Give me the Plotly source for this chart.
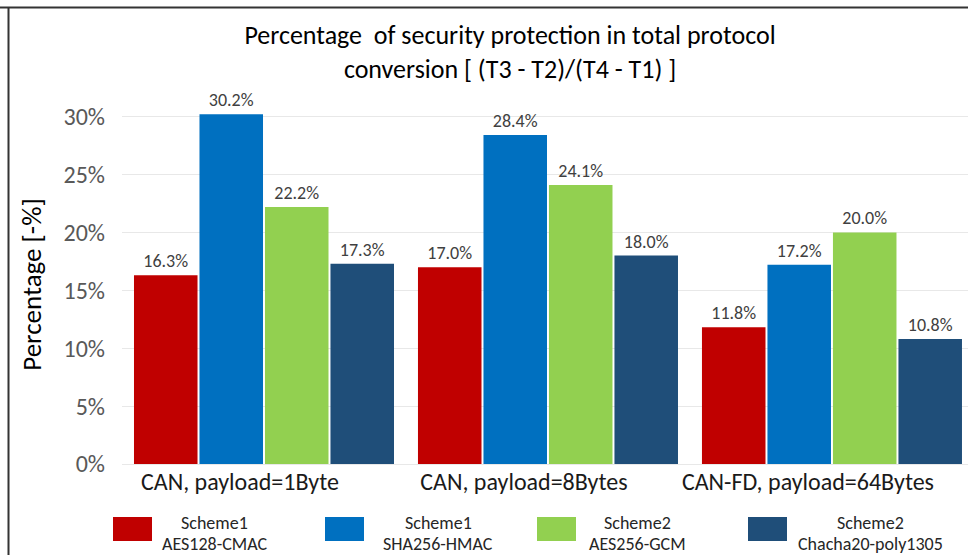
import plotly.graph_objects as go

# Protocol conversion scenarios (x categories)
categories = ["CAN, payload=1Byte", "CAN, payload=8Bytes", "CAN-FD, payload=64Bytes"]

# Share of security protection time in the total conversion time, in percent
aes128_cmac = [16.3, 17.0, 11.8]
sha256_hmac = [30.2, 28.4, 17.2]
aes256_gcm = [22.2, 24.1, 20.0]
chacha20_poly1305 = [17.3, 18.0, 10.8]

series_values = [aes128_cmac, sha256_hmac, aes256_gcm, chacha20_poly1305]
series_schemes = ["Scheme1", "Scheme1", "Scheme2", "Scheme2"]
series_algos = ["AES128-CMAC", "SHA256-HMAC", "AES256-GCM", "Chacha20-poly1305"]
series_colors = ["#C00000", "#0070C0", "#92D050", "#1F4E79"]

y_tick_values = [0, 5, 10, 15, 20, 25, 30]
y_tick_labels = ["0%", "5%", "10%", "15%", "20%", "25%", "30%"]

FONT = "Carlito, Lato, sans-serif"
W, H = 968, 555
ML, MR, MT, MB = 122, 0, 105, 91
PW, PH = W - ML - MR, H - MT - MB


def px_x(x):
    return (x - ML) / PW


def px_y(y):
    return (H - MB - y) / PH


fig = go.Figure()
for vals, scheme, algo, color in zip(series_values, series_schemes, series_algos, series_colors):
    fig.add_trace(go.Bar(
        x=categories,
        y=vals,
        name=f"{scheme} {algo}",
        marker=dict(color=color, line=dict(width=0)),
        text=[f"{v:.1f}%" for v in vals],
        textposition="outside",
        textfont=dict(family=FONT, size=18, color="#404040"),
        cliponaxis=False,
        showlegend=False,
    ))

# Custom legend: swatch on the left, two-line label centred to its right
legend_swatch_left = [113, 325, 537, 748]
legend_text_center = [214, 438, 637, 870]
shapes = []
annotations = []
for i, (scheme, algo, color) in enumerate(zip(series_schemes, series_algos, series_colors)):
    x0 = legend_swatch_left[i]
    shapes.append(dict(type="rect", xref="paper", yref="paper",
                       x0=px_x(x0), x1=px_x(x0 + 39), y0=px_y(541), y1=px_y(517),
                       fillcolor=color, line=dict(width=0), layer="above"))
    for line_text, line_y in ((scheme, 523), (algo, 544)):
        annotations.append(dict(xref="paper", yref="paper", x=px_x(legend_text_center[i]), y=px_y(line_y),
                                text=line_text, showarrow=False,
                                xanchor="center", yanchor="middle", align="center",
                                font=dict(family=FONT, size=18, color="#262626")))

# Outer frame lines (left and top edges)
shapes.append(dict(type="line", xref="paper", yref="paper",
                   x0=px_x(8.5), x1=px_x(8.5), y0=px_y(7.5), y1=px_y(H),
                   line=dict(color="#333333", width=2)))
shapes.append(dict(type="line", xref="paper", yref="paper",
                   x0=px_x(0), x1=px_x(W), y0=px_y(7.5), y1=px_y(7.5),
                   line=dict(color="#333333", width=2)))

fig.update_layout(
    width=W, height=H,
    margin=dict(l=ML, r=MR, t=MT, b=MB, pad=0),
    paper_bgcolor="white", plot_bgcolor="white",
    barmode="group", bargap=0.0775, bargroupgap=0.03,
    title=dict(
        text="Percentage  of security protection in total protocol<br>conversion [ (T3 - T2)/(T4 - T1) ]",
        x=510 / W, xanchor="center", y=1 - 44 / H, yanchor="middle",
        font=dict(family=FONT, size=26, color="#000000"),
    ),
    xaxis=dict(
        range=[-0.5, 2.479], showgrid=False, zeroline=False, showline=False,
        tickfont=dict(family=FONT, size=24, color="#1A1A1A"),
        ticklabelshift=-24, ticklabelstandoff=1,
    ),
    yaxis=dict(
        range=[0, 31], tickvals=y_tick_values, ticktext=y_tick_labels,
        showgrid=True, gridcolor="#E8E8E8", gridwidth=1,
        zeroline=True, zerolinecolor="#E8E8E8", zerolinewidth=1, showline=False,
        tickfont=dict(family=FONT, size=24, color="#595959"),
        ticklabelstandoff=16,
        title=dict(text="Percentage [-%]", font=dict(family=FONT, size=27, color="#000000"), standoff=14),
    ),
    shapes=shapes,
    annotations=annotations,
)

fig.write_html("out.html")
